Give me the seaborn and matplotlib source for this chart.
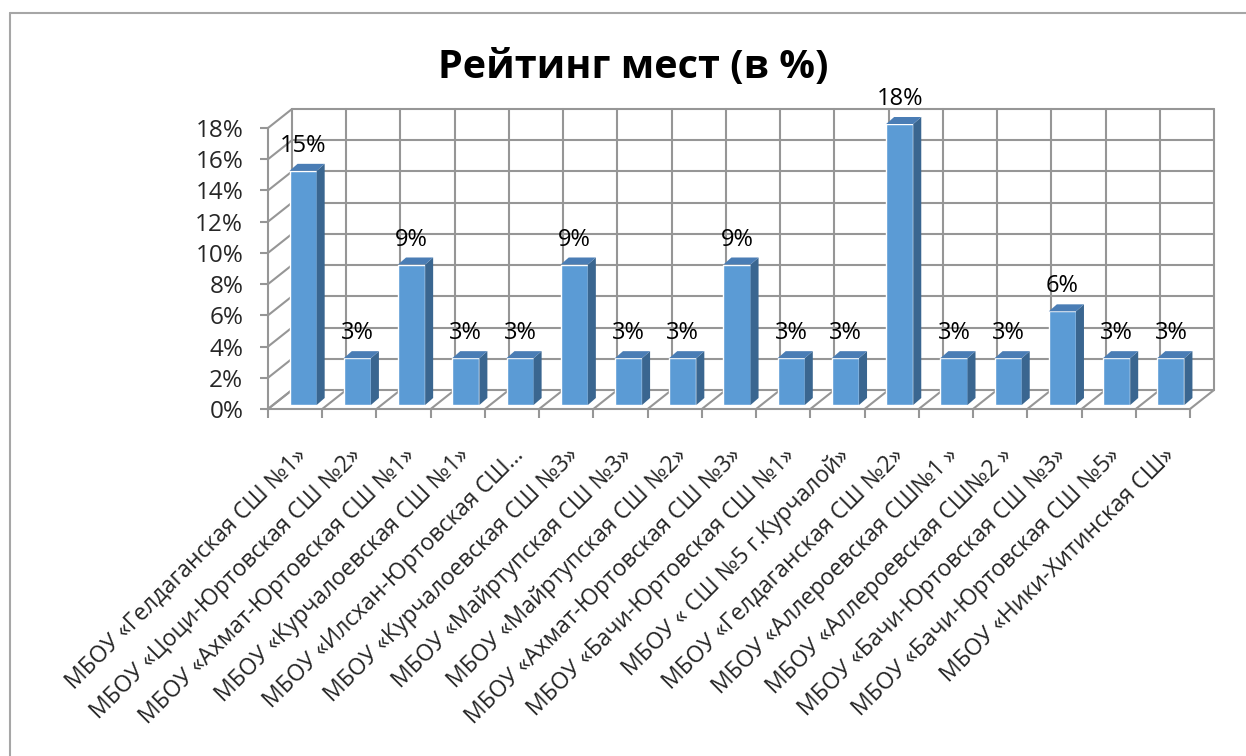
import numpy as np
import pandas as pd
import matplotlib.pyplot as plt
import matplotlib.lines as mlines
from matplotlib.patches import Polygon
import seaborn as sns

# данные: рейтинг мест (в %)
schools = [
    "МБОУ «Гелдаганская СШ №1»",
    "МБОУ «Цоци-Юртовская СШ №2»",
    "МБОУ «Ахмат-Юртовская СШ №1»",
    "МБОУ «Курчалоевская СШ №1»",
    "МБОУ «Илсхан-Юртовская СШ…",
    "МБОУ «Курчалоевская СШ №3»",
    "МБОУ «Майртупская СШ №3»",
    "МБОУ «Майртупская СШ №2»",
    "МБОУ «Ахмат-Юртовская СШ №3»",
    "МБОУ «Бачи-Юртовская СШ №1»",
    "МБОУ « СШ №5 г.Курчалой»",
    "МБОУ «Гелдаганская СШ №2»",
    "МБОУ «Аллероевская СШ№1 »",
    "МБОУ «Аллероевская СШ№2 »",
    "МБОУ «Бачи-Юртовская СШ №3»",
    "МБОУ «Бачи-Юртовская СШ №5»",
    "МБОУ «Ники-Хитинская СШ»",
]
percent = [15, 3, 9, 3, 3, 9, 3, 3, 9, 3, 3, 18, 3, 3, 6, 3, 3]
y_ticks = list(range(0, 19, 2))

sns.set_style("white")
plt.rcParams["font.family"] = ["Open Sans", "DejaVu Sans"]

W, H = 1246, 756
fig = plt.figure(figsize=(W / 100, H / 100), dpi=100)
# оси: передняя плоскость 3D-диаграммы
ax_l, ax_r, ax_b, ax_t = 268, 1190, 409, 128
ax = fig.add_axes([ax_l / W, 1 - ax_b / H, (ax_r - ax_l) / W, (ax_b - ax_t) / H])

n = len(schools)
X_PX = (ax_r - ax_l) / n
Y_PX = (ax_b - ax_t) / 18.0
def px_x(p):
    return p / X_PX
def px_y(p):
    return p / Y_PX

grid_c = "#969696"
grid_lw = 1.5
ox, oy = px_x(24), px_y(19)     # смещение задней стенки
lo, hi = -0.5, n - 0.5

# задняя стенка
for t in y_ticks:
    ax.plot([lo + ox, hi + ox], [t + oy, t + oy], color=grid_c, lw=grid_lw, zorder=0, clip_on=False)
    ax.plot([lo, lo + ox], [t, t + oy], color=grid_c, lw=grid_lw, zorder=0, clip_on=False)
for b in np.arange(lo, hi + 1):
    ax.plot([b + ox, b + ox], [oy, 18 + oy], color=grid_c, lw=grid_lw, zorder=0, clip_on=False)
    ax.plot([b, b + ox], [0, oy], color=grid_c, lw=grid_lw, zorder=0, clip_on=False)

df = pd.DataFrame({"school": schools, "value": percent})
sns.barplot(data=df, x="school", y="value", color="#5B9BD5", saturation=1,
            width=0.5, ax=ax, zorder=3)

bx, by = px_x(8), px_y(4)      # сдвиг столбцов внутрь
dx, dy = px_x(8), px_y(7)      # глубина столбцов
for p, v in zip(ax.patches, percent):
    p.set_x(p.get_x() + bx)
    p.set_y(p.get_y() + by)
    p.set_clip_on(False)
    x0 = p.get_x()
    x1 = x0 + p.get_width()
    y0 = p.get_y()
    y1 = y0 + p.get_height()
    side = Polygon([(x1, y0), (x1 + dx, y0 + dy), (x1 + dx, y1 + dy), (x1, y1)],
                   closed=True, facecolor="#3A6690", edgecolor="none", zorder=3, clip_on=False)
    top = Polygon([(x0, y1), (x1, y1), (x1 + dx, y1 + dy), (x0 + dx, y1 + dy)],
                  closed=True, facecolor="#4A7DB5", edgecolor="none", zorder=3, clip_on=False)
    ax.add_patch(side)
    ax.add_patch(top)
    ax.text((x0 + x1) / 2, y1 + px_y(25), f"{v}%", ha="center", va="center",
            fontsize=17, color="black", zorder=5)

ax.set_xlim(lo, hi)
ax.set_ylim(0, 18)
ax.set_yticks(y_ticks)
ax.set_yticklabels([f"{t}%" for t in y_ticks], fontsize=17.5)
ax.set_xticks(range(n))
ax.set_xticklabels(schools, rotation=45, ha="right", rotation_mode="anchor", fontsize=16.5)
for lab in ax.get_xticklabels():
    lab.set_x(lab.get_position()[0])
ax.set_xticks(np.arange(lo, hi + 1), minor=True)
ax.tick_params(axis="x", which="major", length=0, pad=25)
ax.tick_params(axis="x", which="minor", length=6.5, width=grid_lw, color=grid_c, bottom=True)
ax.tick_params(axis="y", length=5.8, width=grid_lw, color=grid_c, pad=12, left=True)
ax.set_xlabel("")
ax.set_ylabel("")
ax.patch.set_alpha(0)
for s in ["top", "right"]:
    ax.spines[s].set_visible(False)
for s in ["left", "bottom"]:
    ax.spines[s].set_color(grid_c)
    ax.spines[s].set_linewidth(grid_lw)

fig.text(633 / W, 1 - 68 / H, "Рейтинг мест (в %)", ha="center", va="center",
         fontsize=28.5, fontweight="bold", color="black")

# рамка области диаграммы
fig.add_artist(mlines.Line2D([10 / W, 1], [1 - 13 / H, 1 - 13 / H], color="#A6A6A6", lw=1.5))
fig.add_artist(mlines.Line2D([10 / W, 10 / W], [0, 1 - 13 / H], color="#A6A6A6", lw=1.5))

fig.savefig("out.png", dpi=100)
